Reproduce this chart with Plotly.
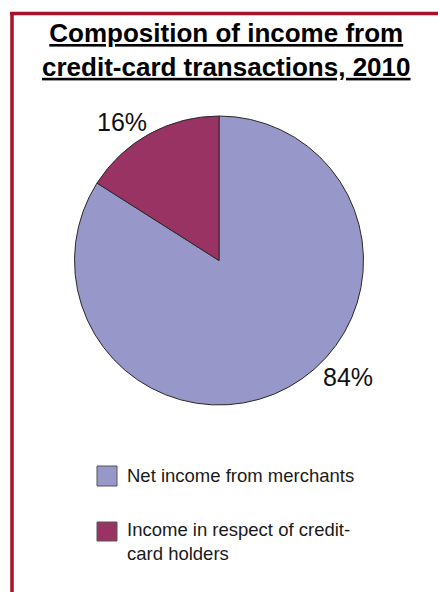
import plotly.graph_objects as go

W, H = 438, 592

title_lines = ["Composition of income from", "credit-card transactions, 2010"]
categories = ["Net income from merchants", "Income in respect of credit-card holders"]
legend_text = ["Net income from merchants", "Income in respect of credit-<br>card holders"]
values = [84, 16]
colors = ["#9797C9", "#993363"]


def px(x):
    return x / W


def py(y):
    return 1 - y / H


fig = go.Figure()
fig.add_trace(go.Pie(
    labels=categories,
    values=values,
    sort=False,
    direction="clockwise",
    rotation=0,
    marker=dict(colors=colors, line=dict(color="#2a2a2a", width=1)),
    textinfo="none",
    hoverinfo="label+percent",
    showlegend=False,
    domain=dict(x=[px(74), px(364)], y=[py(405), py(116)]),
))

annotations = []
# title
annotations.append(dict(
    text="<br>".join(f"<b><u>{t}</u></b>" for t in title_lines),
    x=px(226), y=py(50), xref="paper", yref="paper",
    xanchor="center", yanchor="middle", showarrow=False,
    font=dict(family="Liberation Sans, Arial", size=26, color="#000000"),
))
# percentage labels
label_pos = [(348, 377), (122, 122)]
for v, (lx, ly) in zip(values, label_pos):
    annotations.append(dict(
        text=f"{v}%", x=px(lx), y=py(ly), xref="paper", yref="paper",
        xanchor="center", yanchor="middle", showarrow=False,
        font=dict(family="Liberation Sans, Arial", size=25, color="#111111"),
    ))

shapes = []
# border lines
shapes.append(dict(type="line", xref="paper", yref="paper",
                   x0=px(10), x1=1.01, y0=py(13.5), y1=py(13.5),
                   line=dict(color="#A8122A", width=3.5)))
shapes.append(dict(type="line", xref="paper", yref="paper",
                   x0=px(12), x1=px(12), y0=py(12), y1=-0.01,
                   line=dict(color="#A8122A", width=3.5)))

# manual legend
legend_boxes = [(466, 486), (522, 541)]
legend_text_y = [475, 541]
for col, txt, (y0, y1), ty in zip(colors, legend_text, legend_boxes, legend_text_y):
    shapes.append(dict(type="rect", xref="paper", yref="paper",
                       x0=px(97), x1=px(117), y0=py(y1), y1=py(y0),
                       fillcolor=col, line=dict(color="#555555", width=1)))
    annotations.append(dict(
        text=txt, x=px(124.5), y=py(ty), xref="paper", yref="paper",
        xanchor="left", yanchor="middle", align="left", showarrow=False,
        font=dict(family="Liberation Sans, Arial", size=18.5, color="#1a1a1a"),
    ))

fig.update_layout(
    width=W, height=H,
    margin=dict(l=0, r=0, t=0, b=0),
    paper_bgcolor="white", plot_bgcolor="white",
    annotations=annotations, shapes=shapes,
    showlegend=False,
)

fig.write_html("out.html")
